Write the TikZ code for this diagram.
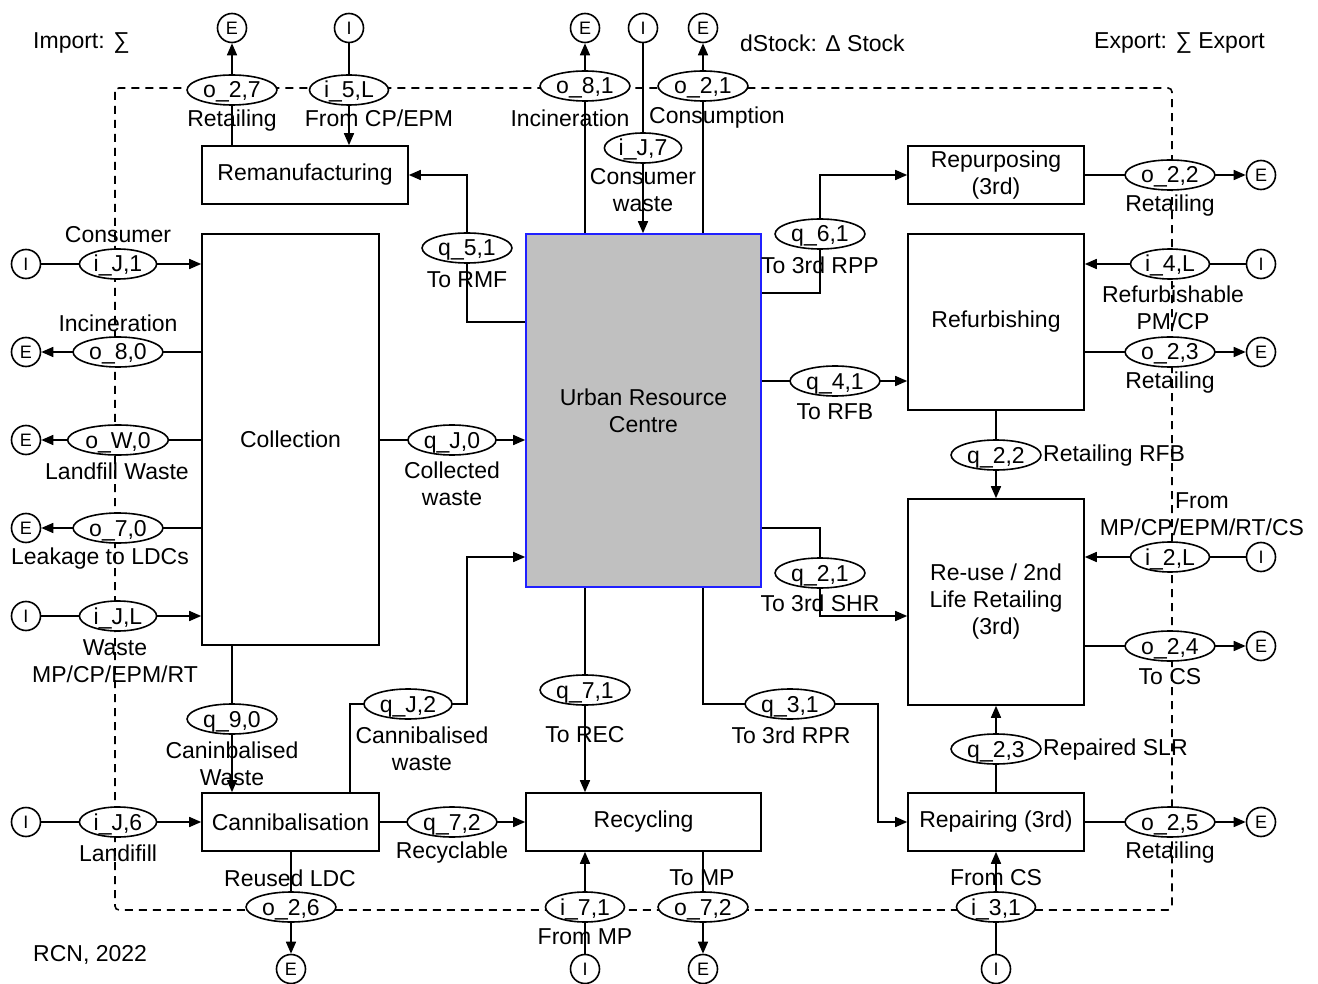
\documentclass[tikz,border=0pt]{standalone}
\usepackage{fontspec}
\setmainfont{Liberation Sans}
\usetikzlibrary{shapes.geometric,arrows.meta,backgrounds}
\definecolor{urcgray}{RGB}{192,192,192}
\definecolor{urcblue}{RGB}{32,32,255}
\begin{document}
\begin{tikzpicture}[x=1pt,y=-1pt,
  box/.style={draw,line width=1.6pt,fill=white,inner sep=0pt,align=center,font=\fontsize{23}{27}\selectfont},
  flow/.style={ellipse,draw,line width=1.6pt,fill=white,inner xsep=3pt,inner ysep=0pt,minimum height=30pt,text height=16pt,text depth=0pt,font=\fontsize{23}{27}\selectfont},
  io/.style={circle,draw,line width=1.6pt,fill=white,inner sep=0pt,minimum size=29pt,font=\fontsize{18}{20}\selectfont},
  lbl/.style={inner sep=0pt,align=center,font=\fontsize{23}{27}\selectfont},
  arr/.style={line width=1.6pt,-{Triangle[length=12pt,width=10pt]}},
  bnd/.style={line width=1.6pt,dash pattern=on 8pt off 6pt,rounded corners=4pt}]
\useasboundingbox (0,0) rectangle (1318,984);

% headings
\node[lbl,anchor=west] (timp) at (33,43) {Import: ∑};
\node[lbl,anchor=west] (tstk) at (740,43) {dStock: Δ Stock};
\node[lbl,anchor=west] (texp) at (1094,43) {Export: ∑ Export};
\node[lbl,anchor=west] (trcn) at (33,955) {RCN, 2022};

% boundary
\coordinate (bTL) at (115,88);
\coordinate (bBR) at (1172,910);

% boxes
\node[box,minimum width=206pt,minimum height=58pt] (reman) at (305,175) {Remanufacturing};
\node[box,minimum width=177pt,minimum height=411pt] (coll) at (290.5,439.5) {Collection};
\node[box,draw=urcblue,fill=urcgray,minimum width=235pt,minimum height=353pt] (urc) at (643.5,410.5) {Urban Resource\\Centre};
\node[box,minimum width=176pt,minimum height=58pt] (repur) at (996,175) {Repurposing\\(3rd)};
\node[box,minimum width=176pt,minimum height=176pt] (refurb) at (996,322) {Refurbishing};
\node[box,minimum width=176pt,minimum height=206pt] (reuse) at (996,602) {Re-use / 2nd\\Life Retailing\\(3rd)};
\node[box,minimum width=177pt,minimum height=58pt] (cannib) at (290.5,822) {Cannibalisation};
\node[box,minimum width=235pt,minimum height=58pt] (recyc) at (643.5,822) {Recycling};
\node[box,minimum width=176pt,minimum height=58pt] (repair) at (996,822) {Repairing (3rd)};

% import / export terminals
\node[io] (Eo27) at (232,28) {E};
\node[io] (Ii5L) at (349,28) {I};
\node[io] (Eo81) at (585,28) {E};
\node[io] (IiJ7) at (643,28) {I};
\node[io] (Eo21) at (703,28) {E};
\node[io] (Eo22) at (1261,175) {E};
\node[io] (Ii4L) at (1261,264) {I};
\node[io] (Eo23) at (1261,352) {E};
\node[io] (Ii2L) at (1261,557) {I};
\node[io] (Eo24) at (1261,646) {E};
\node[io] (Eo25) at (1261,822) {E};
\node[io] (Ii31) at (996,969) {I};
\node[io] (Eo72) at (703,969) {E};
\node[io] (Ii71) at (585,969) {I};
\node[io] (Eo26) at (291,969) {E};
\node[io] (IiJ1) at (26,264) {I};
\node[io] (Eo80) at (26,352) {E};
\node[io] (EoW0) at (26,440) {E};
\node[io] (Eo70) at (26,528) {E};
\node[io] (IiJL) at (26,616) {I};
\node[io] (IiJ6) at (26,822) {I};

% flow ellipses
\node[flow] (o27) at (232,90) {o\_2,7};
\node[flow] (i5L) at (349,90) {i\_5,L};
\node[flow] (o81) at (585,86) {o\_8,1};
\node[flow] (o21) at (703,86) {o\_2,1};
\node[flow] (iJ7) at (643,148) {i\_J,7};
\node[flow] (q51) at (467,248) {q\_5,1};
\node[flow] (q61) at (820,234) {q\_6,1};
\node[flow] (o22) at (1170,175) {o\_2,2};
\node[flow] (i4L) at (1170,264) {i\_4,L};
\node[flow] (o23) at (1170,352) {o\_2,3};
\node[flow] (q41) at (835,381) {q\_4,1};
\node[flow] (q22) at (996,455) {q\_2,2};
\node[flow] (i2L) at (1170,557) {i\_2,L};
\node[flow] (o24) at (1170,646) {o\_2,4};
\node[flow] (q21) at (820,573) {q\_2,1};
\node[flow] (q31) at (790,704) {q\_3,1};
\node[flow] (q23) at (996,749) {q\_2,3};
\node[flow] (o25) at (1170,822) {o\_2,5};
\node[flow] (i31) at (996,907) {i\_3,1};
\node[flow] (q71) at (585,690) {q\_7,1};
\node[flow] (i71) at (585,907) {i\_7,1};
\node[flow] (o72) at (703,907) {o\_7,2};
\node[flow] (q72) at (452,822) {q\_7,2};
\node[flow] (qJ2) at (408,704) {q\_J,2};
\node[flow] (qJ0) at (452,440) {q\_J,0};
\node[flow] (q90) at (232,719) {q\_9,0};
\node[flow] (o26) at (291,907) {o\_2,6};
\node[flow] (iJ6) at (118,822) {i\_J,6};
\node[flow] (iJ1) at (118,264) {i\_J,1};
\node[flow] (o80) at (118,352) {o\_8,0};
\node[flow] (oW0) at (118,440) {o\_W,0};
\node[flow] (o70) at (118,528) {o\_7,0};
\node[flow] (iJL) at (118,616) {i\_J,L};

% labels
\node[lbl] (l27) at (232,121) {Retailing};
\node[lbl] (l5L) at (379,118) {From CP/EPM};
\node[lbl] (l81) at (570,118) {Incineration};
\node[lbl] (l21) at (717,118) {Consumption};
\node[lbl] (lJ7) at (643,190) {Consumer\\waste};
\node[lbl] (l51) at (467,280) {To RMF};
\node[lbl] (l61) at (820,265) {To 3rd RPP};
\node[lbl] (l22) at (1170,206) {Retailing};
\node[lbl] (l4L) at (1173,308) {Refurbishable\\PM/CP};
\node[lbl] (l23) at (1170,383) {Retailing};
\node[lbl] (l41) at (835,412) {To RFB};
\node[lbl,anchor=west] (lq22) at (1043,456) {Retailing RFB};
\node[lbl] (l2L) at (1202,514) {From\\MP/CP/EPM/RT/CS};
\node[lbl] (l24) at (1170,677) {To CS};
\node[lbl] (lq21) at (820,603) {To 3rd SHR};
\node[lbl] (l31) at (791,735) {To 3rd RPR};
\node[lbl,anchor=west] (lq23) at (1043,750) {Repaired SLR};
\node[lbl] (l25) at (1170,853) {Retailing};
\node[lbl] (l31b) at (996,878) {From CS};
\node[lbl] (l71) at (585,735) {To REC};
\node[lbl] (li71) at (585,937) {From MP};
\node[lbl] (l72) at (702,878) {To MP};
\node[lbl] (lq72) at (452,853) {Recyclable};
\node[lbl] (lJ2) at (422,749) {Cannibalised\\waste};
\node[lbl] (lJ0) at (452,484) {Collected\\waste};
\node[lbl] (l90) at (232,764) {Caninbalised\\Waste};
\node[lbl] (l26) at (290,878) {Reused LDC};
\node[lbl] (lJ6) at (118,853) {Landifill};
\node[lbl] (lJ1) at (118,235) {Consumer};
\node[lbl] (l80) at (118,323) {Incineration};
\node[lbl] (lW0) at (117,471) {Landfill Waste};
\node[lbl] (l70) at (100,559) {Leakage to LDCs};
\node[lbl] (lJL) at (115,661) {Waste\\MP/CP/EPM/RT};

% bend points
\coordinate (c51) at (467,322);
\coordinate (c61) at (820,293);
\coordinate (c21a) at (820,528);
\coordinate (c21b) at (820,616);
\coordinate (c31a) at (703,704);
\coordinate (c31b) at (878,704);
\coordinate (cJ2a) at (350,704);
\coordinate (cJ2b) at (467,704);
\coordinate (cJ2c) at (467,557);

\begin{scope}[on background layer]
\draw[bnd] (bTL) rectangle (bBR);
\draw[arr] (reman.north -| Eo27) -- (Eo27);
\draw[arr] (Ii5L) -- (reman.north -| Ii5L);
\draw[arr] (urc.north -| Eo81) -- (Eo81);
\draw[arr] (urc.north -| Eo21) -- (Eo21);
\draw[arr] (IiJ7) -- (urc.north -| IiJ7);
\draw[arr] (urc.west |- c51) -- (c51) -- (c51 |- reman.east) -- (reman.east);
\draw[arr] (urc.east |- c61) -- (c61) -- (c61 |- repur.west) -- (repur.west);
\draw[arr] (repur.east) -- (Eo22);
\draw[arr] (Ii4L) -- (refurb.east |- Ii4L);
\draw[arr] (refurb.east |- Eo23) -- (Eo23);
\draw[arr] (urc.east |- q41) -- (refurb.west |- q41);
\draw[arr] (refurb.south) -- (reuse.north);
\draw[arr] (Ii2L) -- (reuse.east |- Ii2L);
\draw[arr] (reuse.east |- Eo24) -- (Eo24);
\draw[arr] (urc.east |- c21a) -- (c21a) -- (c21b) -- (reuse.west |- c21b);
\draw[arr] (urc.south -| c31a) -- (c31a) -- (c31b) -- (c31b |- repair.west) -- (repair.west);
\draw[arr] (repair.north) -- (reuse.south);
\draw[arr] (repair.east) -- (Eo25);
\draw[arr] (Ii31) -- (repair.south);
\draw[arr] (urc.south -| q71) -- (recyc.north -| q71);
\draw[arr] (Ii71) -- (recyc.south -| Ii71);
\draw[arr] (recyc.south -| Eo72) -- (Eo72);
\draw[arr] (cannib.east) -- (recyc.west);
\draw[arr] (cannib.north -| cJ2a) -- (cJ2a) -- (cJ2b) -- (cJ2c) -- (urc.west |- cJ2c);
\draw[arr] (coll.east |- qJ0) -- (urc.west |- qJ0);
\draw[arr] (coll.south -| q90) -- (cannib.north -| q90);
\draw[arr] (cannib.south -| Eo26) -- (Eo26);
\draw[arr] (IiJ6) -- (cannib.west);
\draw[arr] (IiJ1) -- (coll.west |- IiJ1);
\draw[arr] (coll.west |- Eo80) -- (Eo80);
\draw[arr] (coll.west |- EoW0) -- (EoW0);
\draw[arr] (coll.west |- Eo70) -- (Eo70);
\draw[arr] (IiJL) -- (coll.west |- IiJL);
\end{scope}
\end{tikzpicture}
\end{document}
